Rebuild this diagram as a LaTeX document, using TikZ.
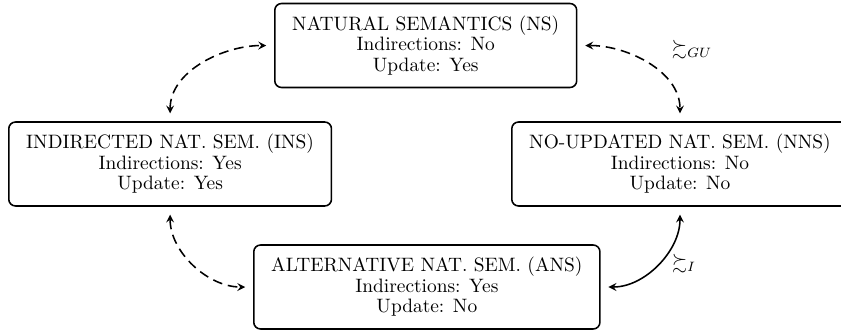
\documentclass[tikz,border=0pt]{standalone}
\usepackage{amssymb}
\usetikzlibrary{arrows}
\begin{document}
\begin{tikzpicture}[x=0.5155pt,y=-0.5155pt,
  semantics/.style={draw, thick, rounded corners=3.5pt, align=center,
    font={\fontsize{10}{10.6}\selectfont}, inner xsep=9pt, inner ysep=0pt,
    minimum height=43.3pt, anchor=west},
  link/.style={thick, >=stealth, <->, shorten <=4pt, shorten >=4pt},
  dashlink/.style={link, dash pattern=on 5pt off 3pt}
]
\useasboundingbox (0,0) rectangle (841,332);

% the four semantics
\node[semantics] (ns)  at (274,45.5) {NATURAL SEMANTICS (NS)\\Indirections: No\\Update: Yes};
\node[semantics] (ins) at (8,164)    {INDIRECTED NAT. SEM. (INS)\\Indirections: Yes\\Update: Yes};
\node[semantics] (nns) at (511,164)  {NO-UPDATED NAT. SEM. (NNS)\\Indirections: No\\Update: No};
\node[semantics] (ans) at (253,287)  {ALTERNATIVE NAT. SEM. (ANS)\\Indirections: Yes\\Update: No};

% relations between them
\draw[dashlink] (ins.north) to[out=90,in=180] (ns.west);
\draw[dashlink] (ns.east) to[out=0,in=90] (nns.north);
\draw[dashlink] (ins.south) to[out=-90,in=180] (ans.west);
\draw[link] (ans.east) to[out=0,in=-90] (nns.south);

% equivalence labels
\node (lgu) at (692,50) {$\succsim_{GU}$};
\node (li)  at (684,264) {$\succsim_{I}$};
\end{tikzpicture}
\end{document}
